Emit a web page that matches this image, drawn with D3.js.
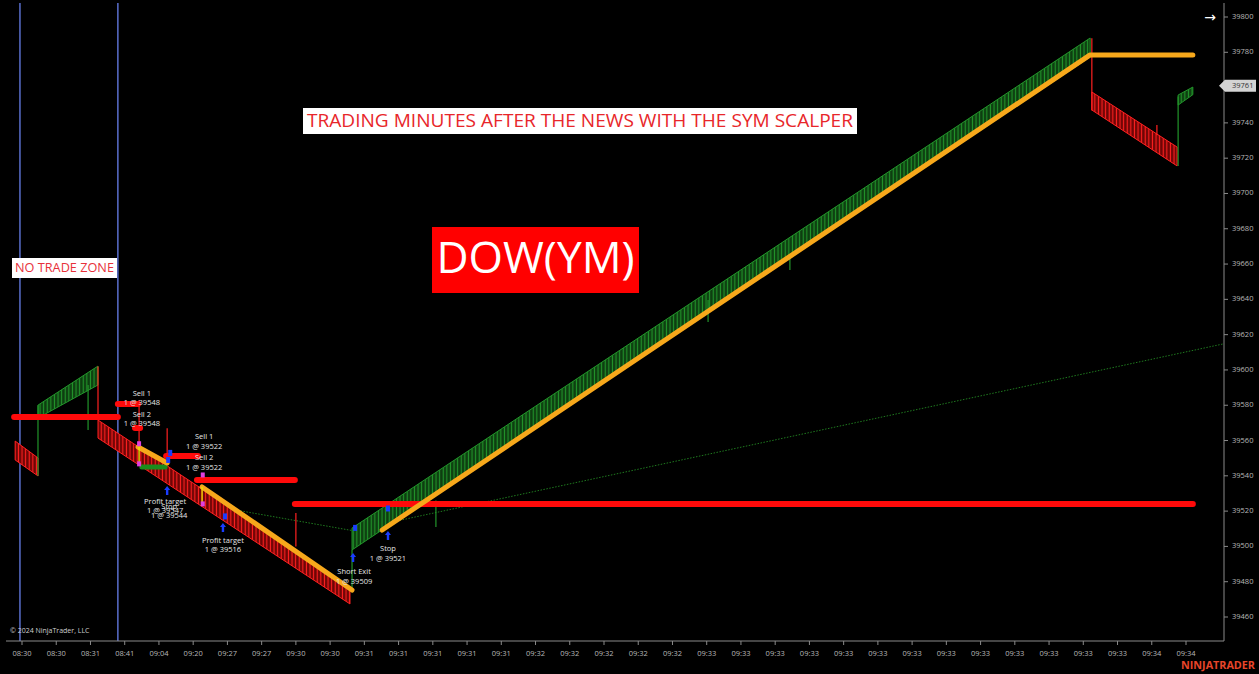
<!DOCTYPE html>
<html><head><meta charset="utf-8">
<script src="https://cdn.jsdelivr.net/npm/d3@7"></script>
<style>html,body{margin:0;padding:0;background:#000;overflow:hidden}</style>
</head><body><svg id="c" width="1259" height="674"></svg>
<script>
// ---- data ----
const tickLabels = ["08:30","08:30","08:31","08:41","09:04","09:20","09:27","09:27","09:30","09:30",
  "09:31","09:31","09:31","09:31","09:31","09:32","09:32","09:32","09:32","09:32",
  "09:33","09:33","09:33","09:33","09:33","09:33","09:33","09:33","09:33","09:33","09:33","09:33","09:33",
  "09:34","09:34"];
const priceTicks = [39460,39480,39500,39520,39540,39560,39580,39600,39620,39640,39660,39680,39700,39720,39740,39760,39780,39800];
const lastPrice = 39761;
// bands of bars: [direction, startSlot, endSlot, highStart, highEnd, lowStart, lowEnd]
const bands = [
  ["down", -0.20, 0.47, 39559.7, 39550.1, 39549.0, 39539.9],
  ["up",    0.47, 2.22, 39580.1, 39602.2, 39572.8, 39591.5],
  ["down",  2.22, 9.58, 39571.6, 39477.0, 39561.4, 39467.4],
  ["up",    9.64, 31.2, 39510.4, 39788.1, 39498.0, 39777.3],
  ["down", 31.25, 33.74, 39757.5, 39726.3, 39747.3, 39715.6],
  ["up",   33.77, 34.2, 39755.8, 39760.3, 39750.1, 39756.0]
];
// single wicks: [direction, slot, priceA, priceB]
const wicks = [
  ["up", 0.467, 39580, 39540], ["up", 1.93, 39591.5, 39566], ["down", 2.22, 39602, 39571.6],
  ["down", 3.42, 39583, 39556], ["down", 4.24, 39567, 39548], ["down", 8.0, 39519, 39500],
  ["up", 9.64, 39498, 39474], ["up", 12.09, 39526, 39511], ["up", 20.04, 39639.6, 39627.2],
  ["up", 22.43, 39665, 39656.6], ["down", 31.25, 39788, 39747], ["down", 33.15, 39738.8, 39733],
  ["up", 33.77, 39755, 39715.6]
];
// trailing line (orange) segments: list of [slot, price] runs
const trailRuns = [
  [[3.39, 39556.3], [4.24, 39547.3]],
  [[5.26, 39533.7], [9.64, 39475.3]],
  [[10.52, 39509.3], [31.2, 39778.5], [34.2, 39778.5]]
];
// stop levels (red): [startSlot, endSlot, price]
const stopLevels = [
  [-0.23, 2.80, 39573.3], [2.80, 3.39, 39580.7], [3.30, 3.45, 39567.1],
  [4.21, 5.14, 39551.2], [5.11, 7.97, 39537.6], [7.97, 34.2, 39524.0]
];
// target level (green)
const targetLevels = [[3.50, 4.18, 39545]];
// dotted trend line points [slot, price]
const trendLine = [[5.26, 39524], [9.64, 39509], [35.15, 39615]];
// vertical session lines (slots)
const sessionLines = [-0.06, 2.80];
// order markers: [slot, price]
const entryArrows = [[4.24, 39532], [5.87, 39511], [9.67, 39494], [10.69, 39506.5]];
const smallMarks = [[4.27, 39549], [4.33, 39553], [5.93, 39517], [9.73, 39510.5], [10.69, 39521.5]];
const magentaMarks = [[3.42, 39557.9], [3.42, 39546.5], [5.28, 39540.2], [5.28, 39523.8]];
const yellowTicks = [[3.42, 39556.3, 39547.8], [5.26, 39533.7, 39523.5]];
// execution labels: [slot, price, line1, line2]
const execLabels = [
  [3.50, 39586.4, "Sell 1", "1 @ 39548"],
  [3.50, 39574.5, "Sell 2", "1 @ 39548"],
  [5.32, 39562.0, "Sell 1", "1 @ 39522"],
  [5.32, 39550.1, "Sell 2", "1 @ 39522"],
  [4.18, 39525.2, "Profit target", "1 @ 39547"],
  [4.30, 39522.6, "Stop", "1 @ 39544"],
  [5.87, 39503.1, "Profit target", "1 @ 39516"],
  [9.70, 39485.5, "Short Exit", "1 @ 39509"],
  [10.69, 39498.5, "Stop", "1 @ 39521"]
];

// ---- drawing ----
const svg = d3.select("#c");
const W = 1259, H = 674;
const plotL = 8, plotR = 1224, plotT = 3, plotB = 641;
const x = d3.scaleLinear().domain([0, 34]).range([22, 1186]);
const y = d3.scaleLinear().domain([39460, 39800]).range([617, 17]);
const FONT = "'Open Sans', 'Noto Sans', sans-serif";
const col = {up: "#22952a", down: "#ff2020", upDark: "#0a300c", downDark: "#560000"};

svg.append("rect").attr("width", W).attr("height", H).attr("fill", "#000");

const defs = svg.append("defs");
defs.append("clipPath").attr("id", "plot").append("rect")
  .attr("x", plotL).attr("y", plotT).attr("width", plotR - plotL).attr("height", plotB - plotT);
["up", "down"].forEach(k => {
  const p = defs.append("pattern").attr("id", "hatch-" + k).attr("patternUnits", "userSpaceOnUse")
    .attr("width", 3.6).attr("height", 20);
  p.append("rect").attr("width", 3.6).attr("height", 20).attr("fill", col[k + "Dark"]);
  p.append("rect").attr("x", 0).attr("width", 1.1).attr("height", 20).attr("fill", col[k]);
  p.append("rect").attr("x", 2.5).attr("width", 0.6).attr("height", 20).attr("fill", col[k]).attr("opacity", 0.6);
});

const g = svg.append("g").attr("clip-path", "url(#plot)");

// session lines
g.selectAll(".sess").data(sessionLines).join("line")
  .attr("x1", d => x(d)).attr("x2", d => x(d)).attr("y1", plotT).attr("y2", plotB)
  .attr("stroke", "#5468c0").attr("stroke-width", 1.6);

// dotted trend line
g.append("path").datum(trendLine)
  .attr("d", d3.line().x(d => x(d[0])).y(d => y(d[1])))
  .attr("fill", "none").attr("stroke", "#1f7a1f").attr("stroke-width", 1).attr("stroke-dasharray", "1.5,1.5");

// bands
g.selectAll(".band").data(bands).join("path")
  .attr("d", d => {
    const [k, u0, u1, h0, h1, l0, l1] = d;
    return `M${x(u0)},${y(h0)}L${x(u1)},${y(h1)}L${x(u1)},${y(l1)}L${x(u0)},${y(l0)}Z`;
  })
  .attr("fill", d => `url(#hatch-${d[0]})`)
  .attr("stroke", d => col[d[0]]).attr("stroke-width", 1);

// wicks
g.selectAll(".wick").data(wicks).join("line")
  .attr("x1", d => x(d[1])).attr("x2", d => x(d[1]))
  .attr("y1", d => y(d[2])).attr("y2", d => y(d[3]))
  .attr("stroke", d => col[d[0]]).attr("stroke-width", 1.2);

// stop levels
g.selectAll(".stop").data(stopLevels).join("line")
  .attr("x1", d => x(d[0])).attr("x2", d => x(d[1]))
  .attr("y1", d => y(d[2])).attr("y2", d => y(d[2]))
  .attr("stroke", "#ff0a0a").attr("stroke-width", 6).attr("stroke-linecap", "round");
g.selectAll(".tgt").data(targetLevels).join("line")
  .attr("x1", d => x(d[0])).attr("x2", d => x(d[1]))
  .attr("y1", d => y(d[2])).attr("y2", d => y(d[2]))
  .attr("stroke", "#1c8c1c").attr("stroke-width", 5).attr("stroke-linecap", "round");

// trailing line
g.selectAll(".trail").data(trailRuns).join("path")
  .attr("d", d3.line().x(d => x(d[0])).y(d => y(d[1])))
  .attr("fill", "none").attr("stroke", "#f7a81b").attr("stroke-width", 5)
  .attr("stroke-linecap", "round").attr("stroke-linejoin", "round");

// yellow ticks
g.selectAll(".ytk").data(yellowTicks).join("line")
  .attr("x1", d => x(d[0])).attr("x2", d => x(d[0]))
  .attr("y1", d => y(d[1])).attr("y2", d => y(d[2]))
  .attr("stroke", "#e8e800").attr("stroke-width", 1.3);

// markers
g.selectAll(".arr").data(entryArrows).join("path")
  .attr("d", d => { const cx = x(d[0]), cy = y(d[1]);
    return `M${cx},${cy-4}L${cx+3},${cy}L${cx+1.2},${cy}L${cx+1.2},${cy+5}L${cx-1.2},${cy+5}L${cx-1.2},${cy}L${cx-3},${cy}Z`; })
  .attr("fill", "#1a3cff");
g.selectAll(".sm").data(smallMarks).join("rect")
  .attr("x", d => x(d[0]) - 2).attr("y", d => y(d[1]) - 3).attr("width", 4).attr("height", 6)
  .attr("fill", "#1a3cff");
g.selectAll(".mg").data(magentaMarks).join("rect")
  .attr("x", d => x(d[0]) - 2).attr("y", d => y(d[1]) - 3).attr("width", 4).attr("height", 5)
  .attr("fill", "#e040e0");

// execution labels
const lab = g.selectAll(".lab").data(execLabels).join("g");
lab.append("text").attr("x", d => x(d[0])).attr("y", d => y(d[1]))
  .attr("text-anchor", "middle").attr("dominant-baseline", "middle")
  .attr("font-family", FONT).attr("font-size", 7.5).attr("fill", "#e6e6e6").text(d => d[2]);
lab.append("text").attr("x", d => x(d[0])).attr("y", d => y(d[1]) + 9.5)
  .attr("text-anchor", "middle").attr("dominant-baseline", "middle")
  .attr("font-family", FONT).attr("font-size", 7.5).attr("fill", "#e6e6e6").text(d => d[3]);

// annotation boxes (left, top, width, height)
function box(lx, ty, w, h, bg, fg, size, txt, tl) {
  svg.append("rect").attr("x", lx).attr("y", ty).attr("width", w).attr("height", h).attr("fill", bg);
  svg.append("text").attr("x", lx + w / 2).attr("y", ty + h / 2 + 1).attr("text-anchor", "middle").attr("dominant-baseline", "middle")
    .attr("font-family", FONT).attr("font-size", size).attr("fill", fg)
    .attr("textLength", tl).attr("lengthAdjust", "spacingAndGlyphs").text(txt);
}
box(12, 258, 105, 20, "#ffffff", "#e8313a", 13, "NO TRADE ZONE", 99);
box(303, 108, 554, 26, "#ffffff", "#e8262a", 18.5, "TRADING MINUTES AFTER THE NEWS WITH THE SYM SCALPER", 546);
box(432, 227, 207, 66, "#ff0000", "#ffffff", 44, "DOW(YM)", 198);

// axes
svg.append("line").attr("x1", plotR).attr("x2", plotR).attr("y1", plotT).attr("y2", plotB)
  .attr("stroke", "#8a8a8a").attr("stroke-width", 1);
svg.append("line").attr("x1", plotL - 2).attr("x2", plotR).attr("y1", plotB).attr("y2", plotB)
  .attr("stroke", "#8a8a8a").attr("stroke-width", 1);

const yAxis = svg.append("g");
yAxis.selectAll("line").data(priceTicks).join("line")
  .attr("x1", plotR).attr("x2", plotR + 4).attr("y1", d => y(d)).attr("y2", d => y(d))
  .attr("stroke", "#8a8a8a");
yAxis.selectAll("text").data(priceTicks.filter(d => Math.abs(d - lastPrice) > 6)).join("text")
  .attr("x", plotR + 8).attr("y", d => y(d)).attr("dominant-baseline", "middle")
  .attr("font-family", FONT).attr("font-size", 7.5).attr("fill", "#b8b8b8").text(d => d);

const xAxis = svg.append("g");
xAxis.selectAll("line").data(tickLabels).join("line")
  .attr("x1", (d, i) => x(i)).attr("x2", (d, i) => x(i)).attr("y1", plotB).attr("y2", plotB + 4)
  .attr("stroke", "#8a8a8a");
xAxis.selectAll("text").data(tickLabels).join("text")
  .attr("x", (d, i) => x(i)).attr("y", plotB + 13).attr("text-anchor", "middle").attr("dominant-baseline", "middle")
  .attr("font-family", FONT).attr("font-size", 7.5).attr("fill", "#b8b8b8").text(d => d);

// last price marker
const lp = y(lastPrice);
svg.append("path").attr("d", `M${plotR - 5},${lp}L${plotR + 1},${lp - 6}L${W - 3},${lp - 6}L${W - 3},${lp + 6}L${plotR + 1},${lp + 6}Z`)
  .attr("fill", "#d4d4d4");
svg.append("text").attr("x", plotR + 8).attr("y", lp + 0.5).attr("dominant-baseline", "middle")
  .attr("font-family", FONT).attr("font-size", 7.5).attr("fill", "#333").text(lastPrice);

// misc text
svg.append("text").attr("x", 1210).attr("y", 18).attr("text-anchor", "middle").attr("dominant-baseline", "middle")
  .attr("font-family", "'DejaVu Sans', sans-serif").attr("font-size", 14).attr("fill", "#ffffff").text("→");
svg.append("text").attr("x", 10).attr("y", 631).attr("dominant-baseline", "middle")
  .attr("font-family", FONT).attr("font-size", 7).attr("fill", "#cfcfcf").text("© 2024 NinjaTrader, LLC");
svg.append("text").attr("x", 1255).attr("y", 666).attr("text-anchor", "end").attr("dominant-baseline", "middle")
  .attr("font-family", FONT).attr("font-weight", "bold").attr("font-size", 10.5).attr("fill", "#e8452a")
  .attr("textLength", 74).attr("lengthAdjust", "spacingAndGlyphs").text("NINJATRADER");
</script></body></html>
